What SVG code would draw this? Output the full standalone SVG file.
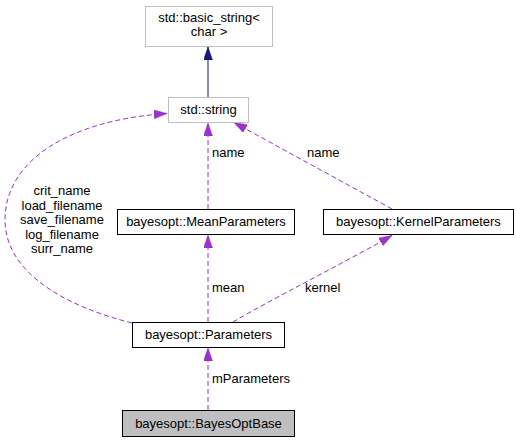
<svg xmlns="http://www.w3.org/2000/svg" width="516" height="443" viewBox="0 0 516 443">
<style>
text{font-family:"Liberation Sans",Arial,sans-serif;font-size:13px;fill:#000}
.c{text-anchor:middle}
.nb{fill:#fff;stroke:#000;stroke-width:1}
.ng{fill:#fff;stroke:#bfbfbf;stroke-width:1}
.cur{fill:#bfbfbf;stroke:#000;stroke-width:1}
.e{fill:none;stroke:#9a32cd;stroke-width:1;stroke-dasharray:5,3}
.n{fill:none;stroke:#191970;stroke-width:1}
</style>
<defs>
<marker id="ap" markerUnits="userSpaceOnUse" markerWidth="14" markerHeight="10" refX="13" refY="4.5" orient="auto" viewBox="0 0 14 10">
<path d="M0,0 L13,4.5 L0,9 z" fill="#9a32cd" stroke="#9a32cd" stroke-width="0.5"/>
</marker>
<marker id="an" markerUnits="userSpaceOnUse" markerWidth="14" markerHeight="10" refX="13" refY="4.5" orient="auto" viewBox="0 0 14 10">
<path d="M0,0 L13,4.5 L0,9 z" fill="#191970" stroke="#191970" stroke-width="0.5"/>
</marker>
</defs>
<g id="edges">
<path class="n" d="M208,97 L208,47" marker-end="url(#an)"/>
<path class="e" d="M208,209 L208,123" marker-end="url(#ap)"/>
<path class="e" d="M392,209 L234,122.5" marker-end="url(#ap)"/>
<path class="e" d="M208,322 L208,235" marker-end="url(#ap)"/>
<path class="e" d="M233,322 C270,300 340,265 392,235.5" marker-end="url(#ap)"/>
<path class="e" d="M132,323 C60,305 5,270 5,220 C5,160 70,120 167,113.5" marker-end="url(#ap)"/>
<path class="e" d="M208,410 L208,348" marker-end="url(#ap)"/>
<text x="212" y="157">name</text>
<text x="307" y="157">name</text>
<text x="212" y="292">mean</text>
<text x="305" y="292">kernel</text>
<text x="212" y="383">mParameters</text>
<text class="c" x="62" y="195">crit_name</text>
<text class="c" x="62" y="209.5">load_filename</text>
<text class="c" x="62" y="224">save_filename</text>
<text class="c" x="62" y="238.5">log_filename</text>
<text class="c" x="62" y="253">surr_name</text>
</g>
<g id="basic_string">
<rect class="ng" x="145.5" y="6.5" width="127" height="40"/>
<text class="c" x="209" y="22">std::basic_string&lt;</text>
<text class="c" x="209" y="36">char &gt;</text>
</g>
<g id="std_string">
<rect class="ng" x="168.5" y="97.5" width="80" height="25"/>
<text class="c" x="208.5" y="114">std::string</text>
</g>
<g id="MeanParameters">
<rect class="nb" x="117.5" y="209.5" width="177" height="25"/>
<text class="c" x="206" y="226">bayesopt::MeanParameters</text>
</g>
<g id="KernelParameters">
<rect class="nb" x="323.5" y="209.5" width="190" height="25"/>
<text class="c" x="418.5" y="226">bayesopt::KernelParameters</text>
</g>
<g id="Parameters">
<rect class="nb" x="132.5" y="322.5" width="152" height="25"/>
<text class="c" x="208.5" y="339">bayesopt::Parameters</text>
</g>
<g id="BayesOptBase">
<rect class="cur" x="122.5" y="410.5" width="172" height="26"/>
<text class="c" x="208.5" y="428">bayesopt::BayesOptBase</text>
</g>
</svg>
